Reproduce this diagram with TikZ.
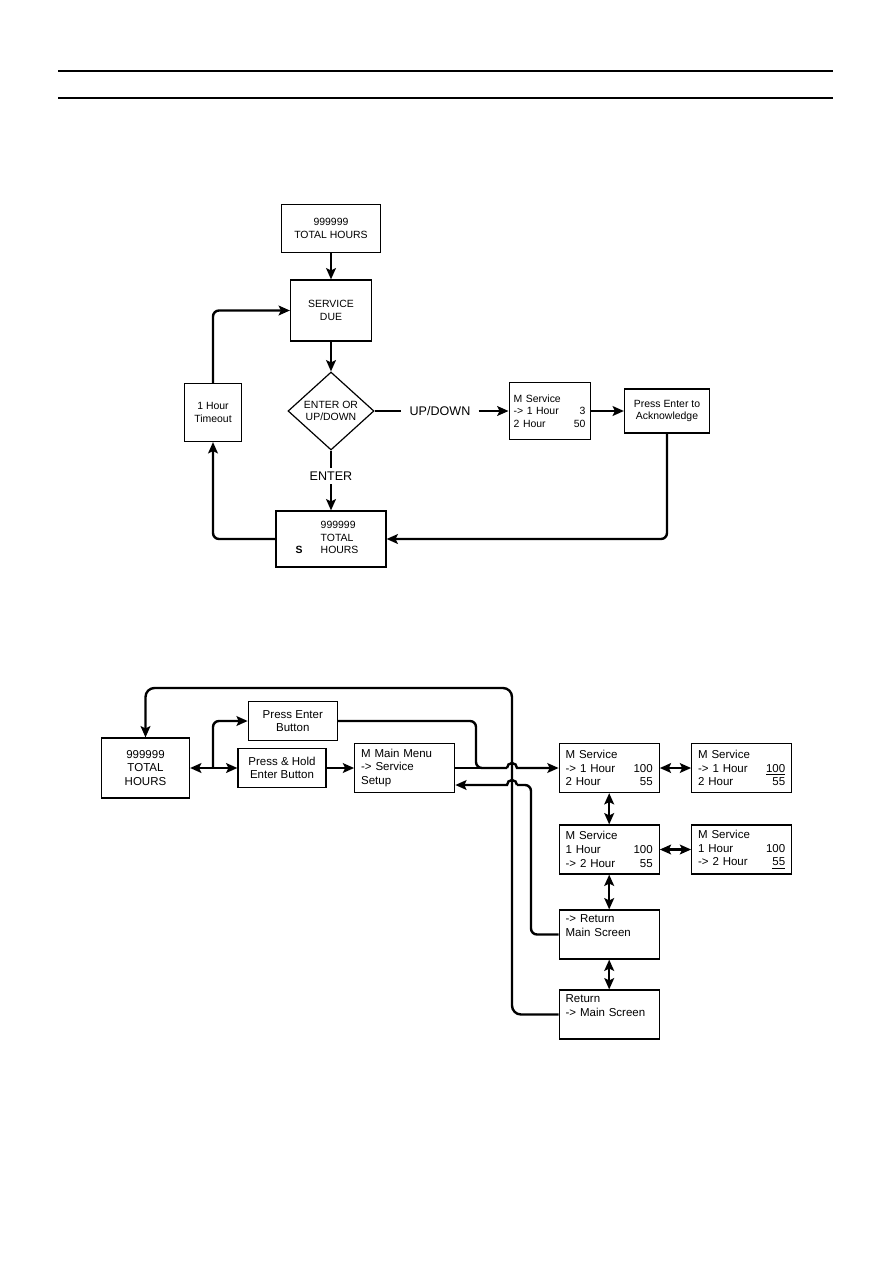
\documentclass[tikz,border=0pt]{standalone}
\usepackage{fontspec}
\setmainfont{Liberation Sans}
\usepackage{tikz}
\usetikzlibrary{
  arrows.meta, positioning, calc, shapes.geometric
}
\newcommand{\pxl}{0.2352mm}
% screen line: text left, value right
\newcommand{\scrow}[2]{#1\hfill#2\hspace*{3.6pt}}

\begin{document}
\begin{tikzpicture}[>={Stealth[length=7.5pt, width=6.5pt, inset=1.5pt]},
  x=\pxl, y=-\pxl,
  box/.style={draw, line width=0.8pt, inner sep=2pt, align=center},
  dim/.style 2 args={minimum width=#1*\pxl, minimum height=#2*\pxl},
  small/.style={font=\fontsize{7}{8.5}\selectfont},
  large/.style={font=\fontsize{7.7}{9.2}\selectfont},
  lbl/.style={font=\fontsize{8.4}{10}\selectfont, inner xsep=5.4pt, inner ysep=2.5pt},
  conn/.style={line width=1.6pt},
  scr/.style={box, large, align=left, text width=58.3pt, inner xsep=4.3pt, dim={100}{49}}]

  % Page
  \useasboundingbox (0,0) rectangle (893,1263);
  \draw[line width=0.7pt] (58,71) -- (833,71);
  \draw[line width=0.7pt] (58,98) -- (833,98);

  % Service due screens
  \node[box, small, dim={99}{48}] (tot) at (331,228.5) {999999\\TOTAL HOURS};
  \node[box, small, dim={81}{61}] (due) at (331,310.5) {SERVICE\\DUE};
  \node[draw, line width=0.8pt, diamond, inner sep=0pt, small, align=center,
    dim={86}{78}] (ask) at (331,411) {ENTER OR\\UP/DOWN};
  \node[box, small, dim={57}{58}] (tmo) at (213,412.5) {1 Hour\\Timeout};
  \node[box, small, align=left, text width=48pt, inner xsep=3.1pt, dim={81}{57}]
    (msa) at (549.6,411) {M Service\\\scrow{-> 1 Hour}{3}\\\scrow{2 Hour}{50}};
  \node[box, small, dim={85}{44}] (ack) at (667,411) {Press Enter to\\Acknowledge};
  \node[box, dim={110}{56}] (due2) at (331,539) {};
  \node[small, anchor=west, align=left, inner sep=0pt] (due2t) at (320.4,537.5)
    {999999\\TOTAL\\HOURS};
  \node[font=\fontsize{7}{8.5}\selectfont\bfseries] (due2s) at (299,550) {S};

  % Key labels
  \node[lbl] (updn) at (440,411) {UP/DOWN};
  \node[lbl] (ent) at (331,476) {ENTER};

  \draw[conn, ->] (tot.south) -- (due.north);
  \draw[conn, ->] (due.south) -- (ask.north);
  \draw[conn] (ask.east) -- (updn.west);
  \draw[conn, ->] (updn.east) -- (msa.west);
  \draw[conn, ->] (msa.east) -- (ack.west);
  \draw[conn] (ask.south) -- (ent.north);
  \draw[conn, ->] (ent.south) -- (due2.north);
  \draw[conn, ->, rounded corners=4pt] (ack.south) |- (due2.east);
  \draw[conn, ->, rounded corners=4pt] (due2.west) -| (tmo.south);
  \draw[conn, ->, rounded corners=4pt] (tmo.north) |- (due.west);

  % Service setup screens
  \node[box, large, dim={88}{60}] (tot2) at (145.5,768) {999999\\TOTAL\\HOURS};
  \node[box, large, dim={89}{39}] (pent) at (292.8,721) {Press Enter\\Button};
  \node[box, large, dim={88}{39}] (phld) at (282,768) {Press \& Hold\\Enter Button};
  \node[scr] (mmenu) at (404.7,768) {M Main Menu\\-> Service\\Setup};
  \node[scr] (sv1) at (609.2,768)
    {M Service\\\scrow{-> 1 Hour}{100}\\\scrow{2 Hour}{55}};
  \node[scr] (sv1e) at (741.7,768)
    {M Service\\\scrow{-> 1 Hour}{\underline{100}}\\\scrow{2 Hour}{55}};
  \node[scr] (sv2) at (609.2,849.5)
    {M Service\\\scrow{1 Hour}{100}\\\scrow{-> 2 Hour}{55}};
  \node[scr] (sv2e) at (741.7,849.5)
    {M Service\\\scrow{1 Hour}{100}\\\scrow{-> 2 Hour}{\underline{55}}};
  \node[scr] (rt1) at (609.2,934.5) {-> Return\\Main Screen\\\strut};
  \node[scr] (rt2) at (609.2,1014.5) {Return\\-> Main Screen\\\strut};

  \draw[conn, <->] (tot2.east) -- (phld.west);
  \draw[conn, ->, rounded corners=4pt] (213,768) |- (pent.west);
  \draw[conn, ->] (phld.east) -- (mmenu.west);
  % jump over the return line
  \draw[conn, rounded corners=4pt] (pent.east) -| (476,768) -- (507,768);
  \draw[conn] (mmenu.east) -- (507,768);
  \draw[conn, ->] (507,768) arc[start angle=180, end angle=360, radius=5] -- (sv1.west);
  \draw[conn, rounded corners=4pt] (rt1.west) -| (531,785) -- (517,785);
  \draw[conn, ->] (517,785) arc[start angle=0, end angle=-180, radius=5]
    -- (mmenu.east |- 0,785);
  \draw[conn, ->, rounded corners=6pt] (rt2.west) -| (512,688) -| (tot2.north);

  \draw[conn, <->] (sv1.south) -- (sv2.north);
  \draw[conn, <->] (sv2.south) -- (rt1.north);
  \draw[conn, <->] (rt1.south) -- (rt2.north);
  \draw[conn, <->] (sv1.east) -- (sv1e.west);
  \draw[conn, <->] (sv2.east) -- (sv2e.west);
\end{tikzpicture}
\end{document}
